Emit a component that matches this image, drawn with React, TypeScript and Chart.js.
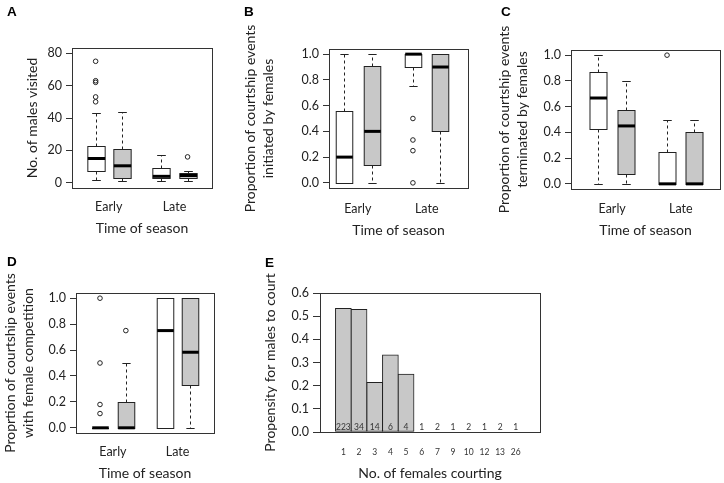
import React, { useEffect, useRef } from "react";
import { Chart, registerables } from "chart.js";

Chart.register(...registerables);

// ---------- DATA ----------
// Box order inside every boxplot panel: Early (white), Early (grey), Late (white), Late (grey)
const seasons = ["Early", "Late"];

// A: No. of males visited
const visitedLower = [2, 1, 1, 1];
const visitedQ1 = [7.5, 3, 3, 3];
const visitedMedian = [15, 10.5, 4, 4.5];
const visitedQ3 = [23, 21, 9, 6];
const visitedUpper = [43, 44, 17, 7];
const visitedOutliers = [[75, 63, 62, 53, 50], [], [], [16]];
const visitedTicks = [0, 20, 40, 60, 80];

// B: proportion initiated by females
const initiatedLower = [0, 0, 0.75, 0];
const initiatedQ1 = [0, 0.14, 0.9, 0.4];
const initiatedMedian = [0.2, 0.4, 1.0, 0.9];
const initiatedQ3 = [0.56, 0.91, 1.0, 1.0];
const initiatedUpper = [1, 1, 1, 1];
const initiatedOutliers = [[], [], [0.5, 0.333, 0.25, 0], []];

// C: proportion terminated by females
const terminatedLower = [0, 0, 0, 0];
const terminatedQ1 = [0.43, 0.08, 0, 0];
const terminatedMedian = [0.667, 0.45, 0, 0];
const terminatedQ3 = [0.87, 0.57, 0.25, 0.4];
const terminatedUpper = [1, 0.8, 0.5, 0.5];
const terminatedOutliers = [[], [], [1], []];

// D: proportion with female competition
const competitionLower = [0, 0, 0, 0];
const competitionQ1 = [0, 0, 0, 0.333];
const competitionMedian = [0, 0, 0.75, 0.583];
const competitionQ3 = [0, 0.2, 1, 1];
const competitionUpper = [0, 0.5, 1, 1];
const competitionOutliers = [[1, 0.5, 0.18, 0.11], [0.75], [], []];

const proportionTicks = [0, 0.2, 0.4, 0.6, 0.8, 1.0];

// E: propensity for males to court
const femalesCourting = ["1", "2", "3", "4", "5", "6", "7", "9", "10", "12", "13", "26"];
const propensity = [0.534, 0.529, 0.214, 0.333, 0.25, 0, 0, 0, 0, 0, 0, 0];
const courtingCounts = [223, 34, 14, 6, 4, 1, 2, 1, 2, 1, 2, 1];
const propensityTicks = [0, 0.1, 0.2, 0.3, 0.4, 0.5, 0.6];

// ---------- STYLE ----------
const INK = "#222222";
const FONT = "Lato";
const boxFills = ["#ffffff", "#c8c8c8"];
const barFill = "#c8c8c8";

Chart.defaults.font.family = FONT;
Chart.defaults.color = INK;

// box position on the x scale: two boxes per season, gap between seasons
const boxPos = (i: number) => Math.floor(i / 2) * 2.5 + (i % 2) + 1;
const seasonCenter = (s: number) => s * 2.5 + 1.5;

const boxPlotPlugin = {
  id: "boxPlot",
  beforeDatasetsDraw(chart: any, _args: any, opts: any) {
    if (!opts || !opts.lower) return;
    const { ctx } = chart;
    const xs = chart.scales.x;
    const ys = chart.scales.y;
    const line = (x1: number, y1: number, x2: number, y2: number) => {
      ctx.beginPath();
      ctx.moveTo(x1, y1);
      ctx.lineTo(x2, y2);
      ctx.stroke();
    };
    for (let i = 0; i < opts.lower.length; i++) {
      const pos = boxPos(i);
      const cx = Math.round(xs.getPixelForValue(pos)) + 0.5;
      const hw = xs.getPixelForValue(pos + opts.halfWidth) - xs.getPixelForValue(pos);
      const yLo = Math.round(ys.getPixelForValue(opts.lower[i])) + 0.5;
      const yQ1 = Math.round(ys.getPixelForValue(opts.q1[i])) + 0.5;
      const yMed = ys.getPixelForValue(opts.median[i]);
      const yQ3 = Math.round(ys.getPixelForValue(opts.q3[i])) + 0.5;
      const yHi = Math.round(ys.getPixelForValue(opts.upper[i])) + 0.5;
      ctx.save();
      ctx.strokeStyle = INK;
      ctx.lineWidth = 1;
      ctx.setLineDash([3, 3]);
      if (yHi < yQ3) line(cx, yQ3, cx, yHi);
      if (yLo > yQ1) line(cx, yQ1, cx, yLo);
      ctx.setLineDash([]);
      line(cx - hw / 2, yHi, cx + hw / 2, yHi);
      line(cx - hw / 2, yLo, cx + hw / 2, yLo);
      ctx.fillStyle = boxFills[i % 2];
      ctx.fillRect(cx - hw, yQ3, 2 * hw, yQ1 - yQ3);
      ctx.strokeRect(cx - hw, yQ3, 2 * hw, yQ1 - yQ3);
      ctx.lineWidth = 3;
      ctx.strokeStyle = "#000";
      line(cx - hw, yMed, cx + hw, yMed);
      ctx.restore();
    }
  },
};

const framePlugin = {
  id: "panelFrame",
  afterDraw(chart: any, _args: any, opts: any) {
    const { ctx, chartArea: a } = chart;
    ctx.save();
    ctx.strokeStyle = "#333";
    ctx.lineWidth = 1;
    ctx.strokeRect(Math.round(a.left) + 0.5, Math.round(a.top) + 0.5, Math.round(a.right - a.left), Math.round(a.bottom - a.top));
    if (opts && opts.letter) {
      ctx.fillStyle = "#000";
      ctx.font = "bold 13.5px 'Liberation Sans', Arial, sans-serif";
      ctx.textAlign = "left";
      ctx.textBaseline = "alphabetic";
      ctx.fillText(opts.letter, opts.x, opts.y);
    }
    ctx.restore();
  },
};

const countLabelPlugin = {
  id: "countLabels",
  afterDatasetsDraw(chart: any, _args: any, opts: any) {
    if (!opts || !opts.counts) return;
    const { ctx } = chart;
    const xs = chart.scales.x;
    const ys = chart.scales.y;
    ctx.save();
    ctx.fillStyle = "#333";
    ctx.font = `8.5px ${FONT}`;
    ctx.textAlign = "center";
    ctx.textBaseline = "middle";
    opts.counts.forEach((c: number, i: number) => {
      ctx.fillText(String(c), xs.getPixelForValue(i + 1), ys.getPixelForValue(0) - 4.5);
    });
    ctx.restore();
  },
};

Chart.register(boxPlotPlugin, framePlugin, countLabelPlugin);

type Geo = { left: number; top: number; w: number; h: number; L: number; T: number; R: number; B: number };

const titleFont = { family: FONT, size: 14, lineHeight: 1.3 };
const tickFont = { family: FONT, size: 12.5, lineHeight: 1.2 };

function boxPanelConfig(p: any) {
  const g: Geo = p.geo;
  const outlierPoints = p.outliers.flatMap((vals: number[], i: number) => vals.map((v) => ({ x: boxPos(i), y: v })));
  return {
    type: "scatter",
    data: {
      datasets: [
        {
          data: outlierPoints,
          pointRadius: 2.3,
          pointHoverRadius: 2.3,
          pointBackgroundColor: "rgba(255,255,255,0)",
          pointBorderColor: INK,
          pointBorderWidth: 1,
        },
      ],
    },
    options: {
      responsive: false,
      animation: false,
      events: [],
      layout: { padding: { left: 0, top: g.T - g.top, right: g.left + g.w - g.R, bottom: 0 } },
      plugins: {
        legend: { display: false },
        tooltip: { enabled: false },
        boxPlot: {
          lower: p.lower,
          q1: p.q1,
          median: p.median,
          q3: p.q3,
          upper: p.upper,
          halfWidth: p.halfWidth,
        },
        panelFrame: { letter: p.letter, x: p.letterX - g.left, y: p.letterY - g.top },
        countLabels: {},
      },
      scales: {
        x: {
          type: "linear",
          min: p.xMin,
          max: p.xMax,
          afterFit: (s: any) => {
            s.height = g.top + g.h - g.B;
          },
          afterBuildTicks: (s: any) => {
            s.ticks = seasons.map((_, i) => ({ value: seasonCenter(i) }));
          },
          grid: { display: false },
          border: { display: false },
          ticks: {
            autoSkip: false,
            maxRotation: 0,
            padding: p.xTickPad,
            font: tickFont,
            color: INK,
            callback: (_v: any, i: number) => seasons[i],
          },
          title: { display: true, text: "Time of season", font: titleFont, color: INK, padding: { top: 0, bottom: p.xTitlePad } },
        },
        y: {
          type: "linear",
          min: p.yMin,
          max: p.yMax,
          afterFit: (s: any) => {
            s.width = g.L - g.left;
          },
          afterBuildTicks: (s: any) => {
            s.ticks = p.yTicks.map((v: number) => ({ value: v }));
          },
          grid: { display: true, drawOnChartArea: false, drawTicks: true, tickLength: 6, color: "#333" },
          border: { display: false },
          ticks: { padding: 4, font: tickFont, color: INK, callback: p.yFmt },
          title: { display: true, text: p.yTitle, font: titleFont, color: INK, padding: { top: p.yTitlePad, bottom: 0 } },
        },
      },
    },
  };
}

const fmt1 = (v: number) => Number(v).toFixed(1);
const fmt0 = (v: number) => String(v);

const geoA: Geo = { left: 0, top: 0, w: 240, h: 240, L: 72, T: 48, R: 212, B: 188 };
const geoB: Geo = { left: 240, top: 0, w: 240, h: 240, L: 329, T: 49, R: 468, B: 188 };
const geoC: Geo = { left: 480, top: 0, w: 244, h: 240, L: 571, T: 50, R: 720, B: 189 };
const geoD: Geo = { left: 0, top: 240, w: 240, h: 243, L: 76, T: 293, R: 214, B: 433 };
const geoE: Geo = { left: 240, top: 240, w: 320, h: 243, L: 320, T: 293, R: 540, B: 432 };

const makeA = () =>
  boxPanelConfig({
    geo: geoA, letter: "A", letterX: 7, letterY: 15.5,
    lower: visitedLower, q1: visitedQ1, median: visitedMedian, q3: visitedQ3, upper: visitedUpper, outliers: visitedOutliers,
    yMin: -3.2, yMax: 83.2, yTicks: visitedTicks, yFmt: fmt0, yTitle: "No. of males visited", yTitlePad: 22.9,
    xMin: 0.1, xMax: 5.43, halfWidth: 0.33, xTickPad: 3, xTitlePad: 2.9,
  });

const makeB = () =>
  boxPanelConfig({
    geo: geoB, letter: "B", letterX: 244, letterY: 15.5,
    lower: initiatedLower, q1: initiatedQ1, median: initiatedMedian, q3: initiatedQ3, upper: initiatedUpper, outliers: initiatedOutliers,
    yMin: -0.04, yMax: 1.04, yTicks: proportionTicks, yFmt: fmt1,
    yTitle: ["Proportion of courtship events", "initiated by females"], yTitlePad: 0.9,
    xMin: 0.456, xMax: 5.498, halfWidth: 0.3, xTickPad: 5, xTitlePad: 0.9,
  });

const makeC = () =>
  boxPanelConfig({
    geo: geoC, letter: "C", letterX: 501, letterY: 16,
    lower: terminatedLower, q1: terminatedQ1, median: terminatedMedian, q3: terminatedQ3, upper: terminatedUpper, outliers: terminatedOutliers,
    yMin: -0.04, yMax: 1.04, yTicks: proportionTicks, yFmt: fmt1,
    yTitle: ["Proportion of courtship events", "terminated by females"], yTitlePad: 14.9,
    xMin: 0.0, xMax: 5.43, halfWidth: 0.31, xTickPad: 4, xTitlePad: 0.9,
  });

const makeD = () =>
  boxPanelConfig({
    geo: geoD, letter: "D", letterX: 7, letterY: 266,
    lower: competitionLower, q1: competitionQ1, median: competitionMedian, q3: competitionQ3, upper: competitionUpper, outliers: competitionOutliers,
    yMin: -0.04, yMax: 1.04, yTicks: proportionTicks, yFmt: fmt1,
    yTitle: ["Proprtion of courtship events", "with female competition"], yTitlePad: 0.9,
    xMin: 0.072, xMax: 5.41, halfWidth: 0.32, xTickPad: 3, xTitlePad: 0.9,
  });

const makeE = () => {
  const g = geoE;
  return {
    type: "bar",
    data: {
      datasets: [
        {
          data: propensity.map((v, i) => ({ x: i + 1, y: v })),
          backgroundColor: barFill,
          borderColor: INK,
          borderWidth: 1,
          borderSkipped: false,
          barThickness: 16,
        },
      ],
    },
    options: {
      responsive: false,
      animation: false,
      events: [],
      layout: { padding: { left: 0, top: g.T - g.top, right: g.left + g.w - g.R, bottom: 0 } },
      plugins: {
        legend: { display: false },
        tooltip: { enabled: false },
        panelFrame: { letter: "E", x: 265 - g.left, y: 266.5 - g.top },
        countLabels: { counts: courtingCounts },
      },
      scales: {
        x: {
          type: "linear",
          min: 0.094,
          max: 12.96,
          afterFit: (s: any) => {
            s.height = g.top + g.h - g.B;
          },
          afterBuildTicks: (s: any) => {
            s.ticks = femalesCourting.map((_, i) => ({ value: i + 1 }));
          },
          grid: { display: false },
          border: { display: false },
          ticks: {
            autoSkip: false,
            maxRotation: 0,
            padding: 7,
            font: { family: FONT, size: 8.5, lineHeight: 1.2 },
            color: "#333",
            callback: (_v: any, i: number) => femalesCourting[i],
          },
          title: { display: true, text: "No. of females courting", font: titleFont, color: INK, padding: { top: 0, bottom: 0.9 } },
        },
        y: {
          type: "linear",
          min: 0,
          max: 0.6,
          afterFit: (s: any) => {
            s.width = g.L - g.left;
          },
          afterBuildTicks: (s: any) => {
            s.ticks = propensityTicks.map((v) => ({ value: v }));
          },
          grid: { display: true, drawOnChartArea: false, drawTicks: true, tickLength: 7, color: "#333" },
          border: { display: false },
          ticks: { padding: 4, font: tickFont, color: INK, callback: fmt1 },
          title: { display: true, text: "Propensity for males to court", font: titleFont, color: INK, padding: { top: 20.9, bottom: 0 } },
        },
      },
    },
  };
};

function Panel({ geo, make }: { geo: Geo; make: () => any }) {
  const ref = useRef<HTMLCanvasElement>(null);
  useEffect(() => {
    if (!ref.current) return;
    const chart = new Chart(ref.current, make());
    return () => chart.destroy();
  }, []);
  return (
    <canvas
      ref={ref}
      width={geo.w}
      height={geo.h}
      style={{ position: "absolute", left: geo.left, top: geo.top, width: geo.w, height: geo.h }}
    />
  );
}

export default function App() {
  return (
    <div style={{ position: "absolute", left: 0, top: 0, width: 724, height: 483, background: "#fff" }}>
      <Panel geo={geoA} make={makeA} />
      <Panel geo={geoB} make={makeB} />
      <Panel geo={geoC} make={makeC} />
      <Panel geo={geoD} make={makeD} />
      <Panel geo={geoE} make={makeE} />
    </div>
  );
}
